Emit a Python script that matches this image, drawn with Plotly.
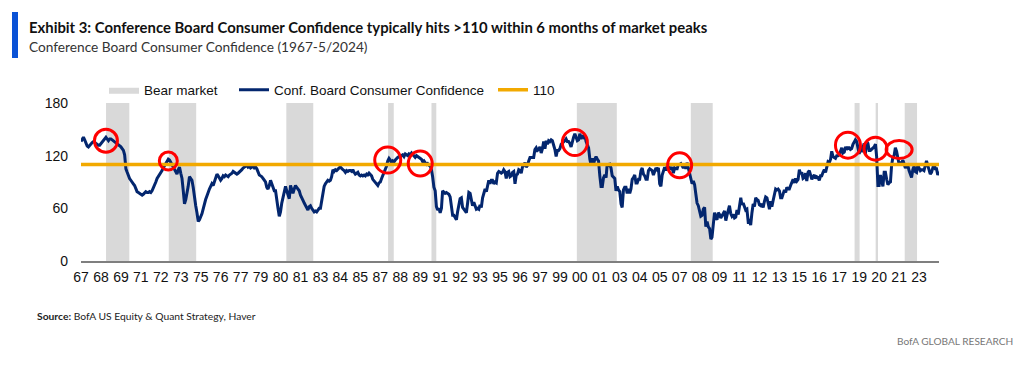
import pandas as pd
import plotly.graph_objects as go

# ---------------- data ----------------
start_month = "1967-01-01"
cc_1960s = [
    136, 139, 141, 138, 134, 131, 130, 132, 134, 135, 136, 135,   # 1967
    134, 133, 132, 132, 134, 136, 138, 140, 141, 139, 137, 139,   # 1968
    139, 138, 137, 136, 135, 134, 133, 131, 130, 128, 126, 121,   # 1969
]
cc_1970s = [
    105, 101, 97, 94, 92, 89, 88, 86, 82, 79, 78, 77,            # 1970
    76, 75, 76, 78, 79, 78, 78, 79, 78, 80, 83, 86,              # 1971
    90, 94, 96, 99, 101, 103, 106, 109, 111, 113, 116, 115,      # 1972
    112, 109, 106, 104, 101, 99, 104, 107, 100, 94, 80, 65,      # 1973
    70, 76, 85, 96, 94, 92, 84, 70, 63, 55, 45, 47,              # 1974
    50, 54, 59, 66, 70, 74, 79, 82, 85, 88, 86, 90,              # 1975
    96, 99, 97, 95, 92, 94, 97, 96, 98, 97, 96, 98,              # 1976
    99, 100, 102, 101, 100, 99, 100, 101, 103, 104, 106, 107,    # 1977
    108, 109, 107, 108, 106, 107, 108, 106, 107, 105, 101, 98,   # 1978
    97, 96, 94, 92, 90, 84, 82, 86, 92, 88, 84, 80,              # 1979
]
cc_1980s = [
    80, 72, 60, 51, 56, 66, 73, 79, 85, 80, 74, 71,              # 1980
    86, 80, 77, 82, 86, 84, 82, 80, 75, 71, 69, 66,              # 1981
    63, 60, 58, 62, 63, 60, 58, 56, 57, 56, 58, 60,              # 1982
    60, 70, 79, 85, 88, 90, 92, 91, 92, 96, 104, 102,            # 1983
    104, 103, 105, 106, 107, 105, 104, 103, 101, 103, 102, 103,  # 1984
    103, 102, 104, 101, 99, 100, 101, 98, 97, 98, 97, 98,        # 1985
    97, 99, 98, 100, 99, 97, 93, 91, 90, 87, 86, 89,             # 1986
    90, 94, 97, 100, 105, 108, 114, 117, 115, 112, 114, 113,     # 1987
    115, 117, 118, 119, 118, 120, 121, 119, 122, 121, 120, 122,  # 1988
    121, 123, 121, 119, 118, 120, 119, 118, 117, 116, 113, 114,  # 1989
]
cc_1990s = [
    112, 110, 111, 109, 109, 104, 96, 84, 80, 62, 58, 60,        # 1990
    55, 60, 80, 79, 77, 78, 77, 76, 73, 60, 52, 52,              # 1991
    50, 47, 56, 65, 71, 72, 61, 59, 57, 55, 66, 78,              # 1992
    77, 68, 63, 67, 62, 59, 60, 59, 64, 61, 72, 79,              # 1993
    82, 79, 86, 92, 88, 92, 92, 88, 90, 89, 100, 102,            # 1994
    101, 100, 101, 104, 102, 94, 101, 102, 96, 97, 101, 102,     # 1995
    88, 98, 99, 104, 103, 100, 107, 109, 112, 107, 109, 114,     # 1996
    118, 118, 118, 118, 127, 129, 126, 127, 130, 123, 128, 136,  # 1997
    128, 137, 133, 137, 136, 138, 137, 133, 127, 119, 126, 126,  # 1998
    128, 133, 134, 135, 137, 139, 136, 136, 134, 130, 137, 141,  # 1999
]
cc_2000s = [
    145, 141, 137, 138, 145, 139, 143, 141, 143, 136, 133, 129,  # 2000
    116, 109, 117, 110, 116, 119, 116, 114, 97, 85, 85, 95,      # 2001
    98, 95, 111, 109, 110, 106, 97, 95, 94, 80, 85, 81,          # 2002
    79, 65, 61, 81, 84, 84, 77, 82, 77, 82, 93, 95,              # 2003
    98, 89, 89, 93, 93, 103, 106, 99, 97, 93, 93, 103,           # 2004
    105, 104, 103, 98, 103, 106, 104, 106, 88, 85, 98, 104,      # 2005
    107, 103, 108, 110, 105, 105, 107, 100, 106, 105, 105, 110,  # 2006
    110, 111, 108, 106, 109, 105, 112, 106, 100, 95, 88, 91,     # 2007
    87, 76, 66, 63, 58, 51, 52, 59, 61, 39, 45, 39,              # 2008
    37, 25, 27, 41, 55, 49, 47, 55, 53, 49, 51, 54,              # 2009
]
cc_2010s = [
    57, 46, 52, 58, 63, 54, 51, 53, 49, 50, 58, 53,              # 2010
    65, 72, 64, 66, 62, 58, 59, 45, 46, 41, 55, 65,              # 2011
    62, 72, 70, 69, 64, 63, 65, 61, 68, 73, 72, 67,              # 2012
    59, 68, 62, 69, 76, 82, 81, 82, 80, 72, 72, 78,              # 2013
    81, 78, 84, 82, 82, 86, 90, 93, 89, 94, 91, 93,              # 2014
    104, 99, 101, 94, 95, 100, 91, 101, 103, 99, 93, 96,         # 2015
    98, 94, 96, 95, 92, 97, 97, 101, 104, 101, 109, 113,         # 2016
    112, 116, 125, 119, 118, 117, 120, 120, 121, 126, 129, 123,  # 2017
    124, 130, 127, 129, 129, 127, 128, 133, 135, 138, 136, 127,  # 2018
    122, 131, 124, 129, 134, 122, 136, 134, 126, 126, 127, 128,  # 2019
]
cc_2020s = [
    130, 133, 119, 86, 86, 98, 92, 85, 101, 101, 93, 87,         # 2020
    89, 90, 109, 118, 120, 129, 125, 115, 110, 112, 112, 115,    # 2021
    111, 106, 108, 109, 103, 98, 95, 104, 108, 102, 101, 109,    # 2022
    106, 103, 104, 104, 103, 110, 114, 109, 104, 99, 101, 108,   # 2023
    111, 105, 105, 98, 102,                                      # 2024 (to May)
]

# bear market periods as drawn in the exhibit
bear_starts = ["1968-09-03", "1972-11-12", "1980-09-20", "1987-07-10", "1990-06-03",
               "2000-02-18", "2007-10-01", "2018-09-10", "2020-02-06", "2022-01-15"]
bear_ends = ["1970-03-25", "1974-09-12", "1982-07-10", "1987-11-25", "1990-09-28",
             "2002-10-21", "2009-03-18", "2019-01-10", "2020-04-03", "2022-11-12"]

threshold = 110
y_ticks = [0, 60, 120, 180]

# highlighted peaks (centre of red circles)
peak_dates = ["1968-09-01", "1972-11-01", "1987-07-01", "1989-09-01", "2000-01-01",
              "2007-01-01", "2018-04-01", "2020-02-01", "2021-09-01"]
peak_values = [137, 114, 115, 111, 135, 109, 132, 128, 127]

# ---------------- styles ----------------
circle_w_px = [23, 18, 26, 24, 25, 24, 25, 23, 26]
circle_h_px = [23, 18, 26, 25, 26, 25, 26, 23, 18]

NAVY = "#03266e"
ORANGE = "#f2a900"
GREY = "#d9d9d9"
RED = "#ff0000"
AX_FONT = "Liberation Sans, Arial, sans-serif"
TXT_FONT = "Lato, Open Sans, sans-serif"

values = cc_1960s + cc_1970s + cc_1980s + cc_1990s + cc_2000s + cc_2010s + cc_2020s
dates = pd.date_range(start=start_month, periods=len(values), freq="MS")
x_start, x_end = dates[0], dates[-1]

# page body has an 8px margin: figure starts at (8, 8) in the window
OFF = 8
W, H = 1024 - OFF, 366 - OFF
PW, PH = 858, 158
L = 81 - OFF
T = 103 - OFF
R = W - L - PW
B = H - T - PH


def px2x(px):
    """window x pixel -> paper coordinate"""
    return (px - OFF - L) / PW


def py2y(py):
    """window y pixel -> paper coordinate"""
    return (T + PH - (py - OFF)) / PH


fig = go.Figure()

# bear market shading as filled polygons
bx, by = [], []
for s, e in zip(bear_starts, bear_ends):
    bx += [s, s, e, e, s, None]
    by += [0, 180, 180, 0, 0, None]
fig.add_trace(go.Scatter(
    x=bx, y=by, fill="toself", fillcolor=GREY, mode="lines",
    line=dict(width=0, color=GREY), name="Bear market", legend="legend",
    showlegend=True, hoverinfo="skip"))

fig.add_trace(go.Scatter(
    x=dates, y=values, mode="lines", line=dict(color=NAVY, width=3),
    name="Conf. Board Consumer Confidence", legend="legend2", showlegend=True))

fig.add_trace(go.Scatter(
    x=[x_start, x_end], y=[threshold, threshold], mode="lines",
    line=dict(color=ORANGE, width=3.5), name=str(threshold), legend="legend3",
    showlegend=True))

# red circles
for d, v, w, h in zip(peak_dates, peak_values, circle_w_px, circle_h_px):
    fig.add_shape(type="circle", xref="x", yref="y",
                  xsizemode="pixel", ysizemode="pixel",
                  xanchor=d, yanchor=v,
                  x0=-w / 2, x1=w / 2, y0=-h / 2, y1=h / 2,
                  line=dict(color=RED, width=3), layer="above")

# blue accent bar at top-left
fig.add_shape(type="rect", xref="paper", yref="paper",
              x0=px2x(12), x1=px2x(18), y0=py2y(12), y1=py2y(58),
              fillcolor="#0a52d6", line=dict(width=0), layer="above")

tick_dates = pd.date_range(start=start_month, end=x_end, freq="16MS")
tick_dates = tick_dates[tick_dates < x_end]

leg_common = dict(orientation="h", yanchor="middle", xanchor="left",
                  bgcolor="rgba(0,0,0,0)", borderwidth=0,
                  font=dict(family=AX_FONT, size=13.5, color="#111"))

fig.update_layout(
    width=W, height=H,
    margin=dict(l=L, r=R, t=T, b=B, autoexpand=False),
    paper_bgcolor="white", plot_bgcolor="white",
    showlegend=True,
    legend=dict(x=px2x(104), y=py2y(90), **leg_common),
    legend2=dict(x=px2x(234), y=py2y(90), **leg_common),
    legend3=dict(x=px2x(493), y=py2y(90), **leg_common),
    xaxis=dict(type="date", range=[x_start, x_end], showgrid=False, zeroline=False,
               showline=True, linecolor="#7f7f7f", linewidth=2,
               tickvals=tick_dates, tickformat="%y", ticks="",
               ticklabelstandoff=2, automargin=False,
               tickfont=dict(family=AX_FONT, size=14, color="#111")),
    yaxis=dict(range=[0, 180], tickvals=y_ticks, showgrid=False, zeroline=False,
               showline=False, ticks="", ticklabelstandoff=12, automargin=False,
               tickfont=dict(family=AX_FONT, size=14, color="#111")),
    annotations=[
        dict(xref="paper", yref="paper", x=px2x(27), y=py2y(27), xanchor="left",
             yanchor="middle", showarrow=False,
             text="<b>Exhibit 3: Conference Board Consumer Confidence typically hits >110 within 6 months of market peaks</b>",
             font=dict(family=TXT_FONT, size=14.85, color="#111")),
        dict(xref="paper", yref="paper", x=px2x(27), y=py2y(46), xanchor="left",
             yanchor="middle", showarrow=False,
             text="Conference Board Consumer Confidence (1967-5/2024)",
             font=dict(family=TXT_FONT, size=13.7, color="#333")),
        dict(xref="paper", yref="paper", x=px2x(35), y=py2y(316), xanchor="left",
             yanchor="middle", showarrow=False,
             text="<b>Source:</b> BofA US Equity & Quant Strategy, Haver",
             font=dict(family=TXT_FONT, size=10.3, color="#222")),
        dict(xref="paper", yref="paper", x=px2x(1015), y=py2y(341), xanchor="right",
             yanchor="middle", showarrow=False,
             text="BofA GLOBAL RESEARCH",
             font=dict(family=TXT_FONT, size=10.1, color="#777")),
    ],
)

fig.write_html("out.html")
